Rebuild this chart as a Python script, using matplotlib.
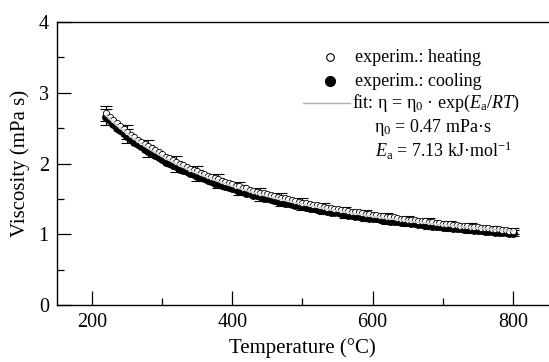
import matplotlib
matplotlib.use("Agg")
import matplotlib.pyplot as plt
import numpy as np
from matplotlib.ticker import MultipleLocator

plt.rcParams['font.family'] = ['Liberation Serif', 'DejaVu Serif']
plt.rcParams['mathtext.fontset'] = 'custom'
plt.rcParams['mathtext.rm'] = 'Liberation Serif'
plt.rcParams['mathtext.it'] = 'Liberation Serif:italic'

# Data (temperature step 5 °C, 220..800)
temperature = list(range(220, 801, 5))
heating = [2.71, 2.66, 2.62, 2.57, 2.53, 2.49, 2.45, 2.41, 2.38, 2.34,
           2.31, 2.28, 2.25, 2.22, 2.19, 2.16, 2.13, 2.10, 2.08, 2.05,
           2.03, 2.00, 1.98, 1.95, 1.93, 1.91, 1.89, 1.87, 1.85, 1.83,
           1.81, 1.79, 1.78, 1.76, 1.74, 1.72, 1.71, 1.69, 1.68, 1.66,
           1.65, 1.63, 1.62, 1.60, 1.59, 1.58, 1.57, 1.55, 1.54, 1.53,
           1.52, 1.51, 1.50, 1.48, 1.47, 1.46, 1.45, 1.44, 1.43, 1.42,
           1.41, 1.40, 1.39, 1.38, 1.37, 1.365, 1.36, 1.35, 1.34, 1.33,
           1.32, 1.315, 1.31, 1.30, 1.29, 1.285, 1.28, 1.27, 1.26, 1.255,
           1.25, 1.245, 1.24, 1.23, 1.22, 1.215, 1.21, 1.205, 1.20, 1.195,
           1.19, 1.185, 1.18, 1.17, 1.16, 1.155, 1.15, 1.145, 1.14, 1.135,
           1.13, 1.125, 1.12, 1.115, 1.11, 1.105, 1.10, 1.095, 1.09, 1.085,
           1.08, 1.075, 1.07, 1.065, 1.06, 1.055, 1.05]
cooling = [2.66, 2.61, 2.56, 2.51, 2.47, 2.43, 2.39, 2.35, 2.31, 2.28,
           2.25, 2.21, 2.18, 2.15, 2.12, 2.09, 2.06, 2.03, 2.01, 1.98,
           1.96, 1.93, 1.91, 1.89, 1.87, 1.85, 1.83, 1.81, 1.79, 1.77,
           1.75, 1.73, 1.72, 1.70, 1.68, 1.67, 1.65, 1.64, 1.62, 1.61,
           1.59, 1.58, 1.56, 1.55, 1.54, 1.52, 1.51, 1.50, 1.49, 1.47,
           1.46, 1.45, 1.44, 1.43, 1.42, 1.41, 1.40, 1.39, 1.38, 1.37,
           1.36, 1.35, 1.34, 1.33, 1.32, 1.315, 1.31, 1.30, 1.29, 1.28,
           1.27, 1.265, 1.26, 1.25, 1.24, 1.235, 1.23, 1.225, 1.22, 1.21,
           1.20, 1.195, 1.19, 1.185, 1.18, 1.175, 1.17, 1.165, 1.16, 1.15,
           1.14, 1.135, 1.13, 1.125, 1.12, 1.115, 1.11, 1.105, 1.10, 1.095,
           1.09, 1.085, 1.08, 1.075, 1.07, 1.065, 1.06, 1.058, 1.055, 1.05,
           1.045, 1.04, 1.035, 1.03, 1.03, 1.025, 1.02]
err_temperature = [220, 250, 280, 320, 350, 380, 410, 440, 470, 500, 530, 560, 590, 620, 650,
                   680, 710, 740, 770, 800]
err_heating_val = [2.71, 2.45, 2.25, 2.03, 1.89, 1.78, 1.68, 1.59, 1.52, 1.45, 1.39, 1.34, 1.29,
                   1.25, 1.21, 1.18, 1.14, 1.11, 1.08, 1.05]
err_cooling_val = [2.66, 2.39, 2.18, 1.96, 1.83, 1.72, 1.62, 1.54, 1.46, 1.40, 1.34, 1.29, 1.24,
                   1.20, 1.17, 1.13, 1.10, 1.07, 1.05, 1.02]
err_size = [0.11, 0.10, 0.09, 0.08, 0.075, 0.07, 0.067, 0.064, 0.06, 0.058, 0.056, 0.054, 0.052,
            0.05, 0.048, 0.047, 0.046, 0.045, 0.044, 0.043]

eta0 = 0.47      # mPa s
Ea = 7.13e3      # J/mol
R = 8.314

fig = plt.figure(figsize=(5.49, 3.62), dpi=100)
ax = fig.add_axes([0.104, 0.157, 0.894, 0.782])

ax.errorbar(err_temperature, err_heating_val, yerr=err_size, fmt='none', ecolor='black',
            elinewidth=0.8, capsize=4, capthick=0.8, zorder=2)
ax.errorbar(err_temperature, err_cooling_val, yerr=err_size, fmt='none', ecolor='black',
            elinewidth=0.8, capsize=4, capthick=0.8, zorder=2)
ax.plot(temperature, cooling, 'o', ms=5.5, mfc='black', mec='black', mew=0.8, zorder=3)
ax.plot(temperature, heating, 'o', ms=4.5, mfc='white', mec='black', mew=0.6, zorder=4)

Tfit = np.linspace(min(temperature), max(temperature), 200)
ax.plot(Tfit, eta0 * np.exp(Ea / (R * (Tfit + 273.15))), color='#d0d0d0', lw=1.2, zorder=5)

ax.set_xlim(150, 850)
ax.set_ylim(0, 4)
ax.xaxis.set_major_locator(MultipleLocator(200))
ax.xaxis.set_minor_locator(MultipleLocator(100))
ax.yaxis.set_major_locator(MultipleLocator(1))
ax.yaxis.set_minor_locator(MultipleLocator(0.5))
ax.tick_params(which='major', direction='in', length=10, width=0.9, labelsize=14.5, pad=6)
ax.tick_params(which='minor', direction='in', length=5, width=0.9)
ax.spines['right'].set_visible(False)
for s in ['left', 'bottom', 'top']:
    ax.spines[s].set_linewidth(1.0)
ax.set_xlabel('Temperature (°C)', fontsize=15, labelpad=4)
ax.set_ylabel('Viscosity (mPa s)', fontsize=15, labelpad=6)

# legend (manual)
def fx(px):
    return px / 549.0
def fy(py):
    return 1 - py / 362.0

fig.lines.append(plt.Line2D([fx(330)], [fy(57)], marker='o', ms=5.5, mfc='white', mec='black',
                            mew=0.8, transform=fig.transFigure))
fig.lines.append(plt.Line2D([fx(330)], [fy(81)], marker='o', ms=7, mfc='black', mec='black',
                            transform=fig.transFigure))
fig.lines.append(plt.Line2D([fx(303), fx(350)], [fy(103), fy(103)], color='#b0b0b0', lw=1.0,
                            transform=fig.transFigure))
fs = 13
fig.text(fx(355), fy(57), 'experim.: heating', fontsize=fs, va='center')
fig.text(fx(355), fy(81), 'experim.: cooling', fontsize=fs, va='center')
fig.text(fx(352), fy(103), r'fit: η = η$_0$ · exp($E_{\rm a}$/$RT$)', fontsize=fs, va='center')
fig.text(fx(374), fy(127), r'η$_0$ = 0.47 mPa·s', fontsize=fs, va='center')
fig.text(fx(375), fy(151), r'$E_{\rm a}$ = 7.13 kJ·mol$^{-1}$', fontsize=fs, va='center')

fig.savefig('out.png', dpi=100)
